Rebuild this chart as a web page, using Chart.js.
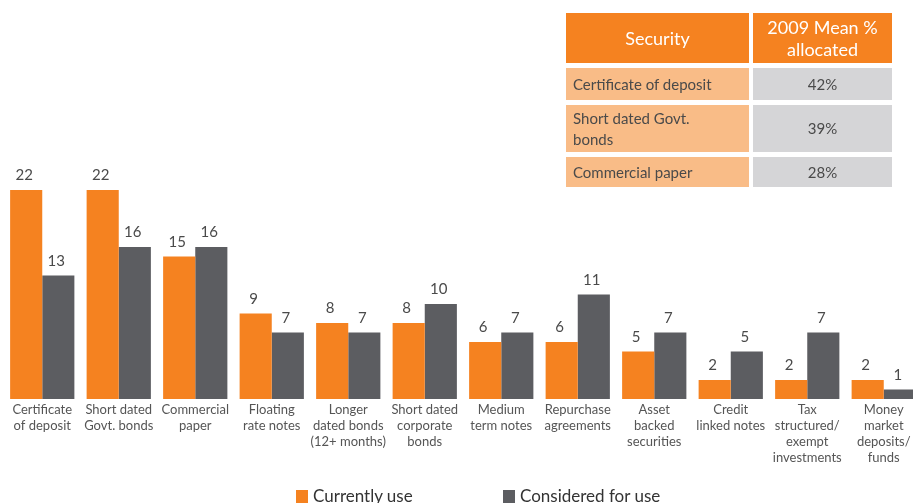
<!DOCTYPE html>
<html lang="en">
<head>
<meta charset="UTF-8" />
<title>Securities used</title>
<script src="https://cdn.jsdelivr.net/npm/chart.js"></script>
<style>
  html, body { margin: 0; padding: 0; background: #fff; overflow: hidden; }
  body { width: 913px; height: 503px; position: relative; font-family: Lato, "Open Sans", sans-serif; }
  #wrap { position: absolute; left: 0; top: 0; width: 926px; height: 503px; }
  #alloc { position: absolute; left: 562px; top: 8px; border-collapse: separate; border-spacing: 4px 5px; }
  #alloc th { background: #F58220; color: #fff; font-weight: normal; font-size: 18px; line-height: 22px; height: 50px; padding: 0; text-align: center; }
  #alloc td { font-size: 15px; line-height: 21px; color: #4a4a4a; padding: 0 0 0 7px; }
  #alloc td.sec { background: #F9BC87; width: 176px; }
  #alloc td.pct { background: #D5D5D7; width: 139px; padding: 0; text-align: center; }
  #legend { position: absolute; left: 296px; top: 485px; font-size: 17px; color: #333; white-space: nowrap; }
  #legend span.item { position: absolute; top: 0; }
  #legend i { display: inline-block; width: 12px; height: 13px; vertical-align: -1px; margin-right: 5px; }
</style>
</head>
<body>
<div id="wrap"><canvas id="chart"></canvas></div>
<table id="alloc"></table>
<div id="legend"></div>

<script>
  // survey data
  const categories = [
    ['Certificate', 'of deposit'],
    ['Short dated', 'Govt. bonds'],
    ['Commercial', 'paper'],
    ['Floating', 'rate notes'],
    ['Longer', 'dated bonds', '(12+ months)'],
    ['Short dated', 'corporate', 'bonds'],
    ['Medium', 'term notes'],
    ['Repurchase', 'agreements'],
    ['Asset', 'backed', 'securities'],
    ['Credit', 'linked notes'],
    ['Tax', 'structured/', 'exempt', 'investments'],
    ['Money', 'market', 'deposits/', 'funds']
  ];
  const currentlyUse = [22, 22, 15, 9, 8, 8, 6, 6, 5, 2, 2, 2];
  const consideredForUse = [13, 16, 16, 7, 7, 10, 7, 11, 7, 5, 7, 1];

  const tableHead = ['Security', '2009 Mean %<br>allocated'];
  const securities = ['Certificate of deposit', 'Short dated Govt.<br>bonds', 'Commercial paper'];
  const allocated = ['42%', '39%', '28%'];
  const rowHeights = [32, 47, 30];

  const ORANGE = '#F58220';
  const GREY = '#5C5D61';

  // table of mean allocation
  let html = '<tr><th style="width:183px">' + tableHead[0] + '</th><th style="width:139px">' + tableHead[1] + '</th></tr>';
  securities.forEach(function (s, i) {
    html += '<tr style="height:' + rowHeights[i] + 'px"><td class="sec">' + s + '</td><td class="pct">' + allocated[i] + '</td></tr>';
  });
  document.getElementById('alloc').innerHTML = html;

  // value above each bar
  const valueLabels = {
    id: 'valueLabels',
    afterDatasetsDraw(chart) {
      const ctx = chart.ctx;
      ctx.save();
      ctx.font = '15px Lato, sans-serif';
      ctx.fillStyle = '#4a4a4a';
      ctx.textAlign = 'center';
      ctx.textBaseline = 'alphabetic';
      chart.data.datasets.forEach(function (ds, di) {
        chart.getDatasetMeta(di).data.forEach(function (bar, i) {
          ctx.fillText(ds.data[i], bar.x - 2, bar.y - 10);
        });
      });
      ctx.restore();
    }
  };

  const chart = new Chart(document.getElementById('chart'), {
    type: 'bar',
    data: {
      labels: categories,
      datasets: [
        { label: 'Currently use', data: currentlyUse, backgroundColor: ORANGE },
        { label: 'Considered for use', data: consideredForUse, backgroundColor: GREY }
      ]
    },
    options: {
      responsive: true,
      maintainAspectRatio: false,
      animation: false,
      layout: { padding: { left: 4, right: 4, top: 19, bottom: 0 } },
      datasets: { bar: { categoryPercentage: 0.84, barPercentage: 1.0 } },
      plugins: { legend: { display: false }, tooltip: { enabled: false } },
      scales: {
        x: {
          grid: { display: false, drawTicks: false },
          border: { display: false },
          ticks: {
            autoSkip: false, maxRotation: 0, padding: 3,
            color: '#555', font: { family: 'Lato', size: 13, lineHeight: 1.23 }
          },
          afterFit(scale) { scale.height = 104; }
        },
        y: { display: false, min: 0, max: 40 }
      }
    },
    plugins: [valueLabels]
  });

  // legend
  const legendPos = [0, 207];
  document.getElementById('legend').innerHTML = chart.data.datasets.map(function (ds, i) {
    return '<span class="item" style="left:' + legendPos[i] + 'px"><i style="background:' + ds.backgroundColor + '"></i>' + ds.label + '</span>';
  }).join('');
</script>
</body>
</html>
